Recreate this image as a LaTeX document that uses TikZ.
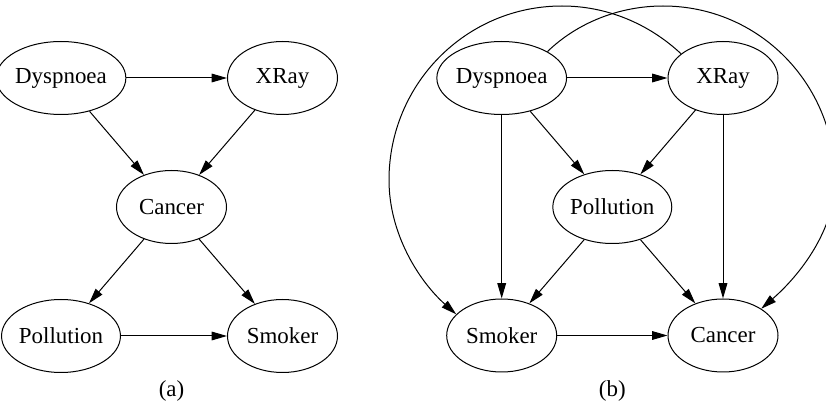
\documentclass[tikz,border=0pt]{standalone}
\usepackage{fontspec}
\setmainfont{Liberation Serif}
\usetikzlibrary{shapes.geometric,arrows.meta}
\begin{document}
\begin{tikzpicture}[x=0.75pt,y=-0.75pt,
  bn/.style={ellipse,draw,line width=0.75pt,minimum width=82.5pt,minimum height=54.75pt,inner sep=0pt,font=\fontsize{17.2}{20}\selectfont},
  arr/.style={line width=0.75pt,-{Triangle[length=11.5pt,width=6.5pt]}},
  captext/.style={font=\fontsize{17.2}{20}\selectfont}]
\useasboundingbox (0,0) rectangle (826,406);
% (a)
\node[bn] (dysA) at (61,78) {Dyspnoea};
\node[bn] (xrA) at (282.5,78) {XRay};
\node[bn] (canA) at (171.5,207) {Cancer};
\node[bn] (polA) at (61,336) {Pollution};
\node[bn] (smA) at (282.5,336) {Smoker};
\draw[arr] (dysA) -- (xrA);
\draw[arr] (dysA) -- (canA);
\draw[arr] (xrA) -- (canA);
\draw[arr] (canA) -- (polA);
\draw[arr] (canA) -- (smA);
\draw[arr] (polA) -- (smA);
\node[captext] (la) at (171.5,391) {(a)};
% (b)
\node[bn] (dysB) at (501.7,78) {Dyspnoea};
\node[bn] (xrB) at (723,78) {XRay};
\node[bn] (polB) at (612.3,207) {Pollution};
\node[bn] (smB) at (501.7,335.5) {Smoker};
\node[bn] (canB) at (723,335.5) {Cancer};
\draw[arr] (dysB) -- (xrB);
\draw[arr] (dysB) -- (polB);
\draw[arr] (xrB) -- (polB);
\draw[arr] (dysB) -- (smB);
\draw[arr] (xrB) -- (canB);
\draw[arr] (polB) -- (smB);
\draw[arr] (polB) -- (canB);
\draw[arr] (smB) -- (canB);
\draw[arr] (dysB.30) .. controls (577,23) and (619,6) .. (663,6) .. controls (759,6) and (835,84) .. (835,180) .. controls (835,230) and (800,275) .. (canB.35);
\draw[arr] (xrB.150) .. controls (648,23) and (606,6) .. (562,6) .. controls (466,6) and (389,84) .. (389,180) .. controls (389,235) and (420,282) .. (smB.155);
\node[captext] (lb) at (612.3,391) {(b)};
\end{tikzpicture}
\end{document}
